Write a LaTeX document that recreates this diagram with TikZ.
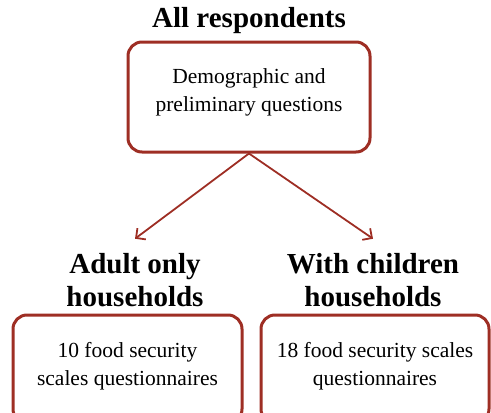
\documentclass[tikz,border=0pt]{standalone}
\usepackage{fontspec}
\setmainfont{Liberation Serif}
\usepackage{xcolor}
\usetikzlibrary{arrows.meta}
\definecolor{boxred}{RGB}{158,46,36}
\tikzset{
  qbox/.style={draw=boxred, line width=3pt, rounded corners=14pt, align=center, font=\fontsize{21.5}{28}\selectfont},
  head/.style={align=center, font=\bfseries\fontsize{29}{33}\selectfont},
}

\begin{document}
\begin{tikzpicture}[x=1pt, y=1pt, >={Straight Barb[length=7pt,width=14pt]}, auto]
        \useasboundingbox (0,0) rectangle (491,-413);
        \node (title) [head] at (249,-21) {All respondents};
        \node (demo) [qbox, minimum width=242pt, minimum height=110pt, text depth=14pt] at (249,-97) {Demographic and \\ preliminary questions};
        \node (adulthead) [head] at (135,-280) {Adult only \\ households};
        \node (kidshead) [head, right of=adulthead, node distance=238pt] {With children \\ households};
        \node (adultbox) [qbox, minimum width=229pt, minimum height=108pt, text depth=10pt] at (127.5,-369) {10 food security \\ scales questionnaires};
        \node (kidsbox) [qbox, right of=adultbox, node distance=247.5pt, minimum width=228pt, minimum height=108pt, text depth=10pt] {18 food security scales \\ questionnaires};
        \path[->, boxred, line width=1.8pt] (demo.south) edge ([yshift=11pt]adulthead.north);
        \path[->, boxred, line width=1.8pt] (demo.south) edge ([yshift=11pt]kidshead.north);
    \end{tikzpicture}
\end{document}
